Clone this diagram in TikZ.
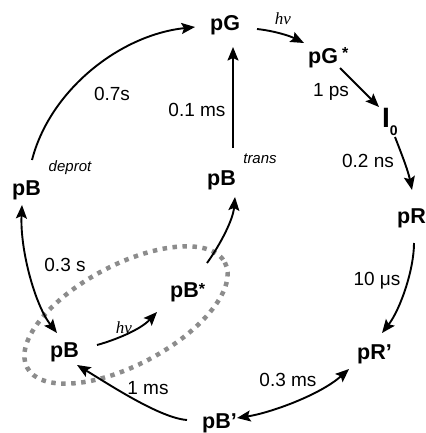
\documentclass[tikz,border=0pt]{standalone}
\usepackage{fontspec}
\setmainfont{Liberation Sans}
\newfontfamily\serifit{Liberation Serif}
\usetikzlibrary{arrows.meta}
\begin{document}
\begin{tikzpicture}[x=1pt,y=-1pt,
  st/.style={font=\fontsize{21.5}{24}\selectfont\bfseries, inner sep=0pt, anchor=base west},
  lab/.style={font=\fontsize{19}{22}\selectfont, inner sep=0pt, anchor=base},
  itl/.style={font=\fontsize{15}{18}\selectfont\itshape, inner sep=0pt, anchor=base},
  hnu/.style={font=\serifit\fontsize{17}{20}\selectfont\itshape, inner sep=0pt, anchor=base},
  tip/.tip={Stealth[length=13.5pt,width=11pt,inset=2.5pt]},
  arr/.style={line width=1.9pt, -tip},
  darr/.style={line width=1.9pt, tip-tip},
  dotloop/.style={draw=black!45, line width=4.5pt, dash pattern=on 4.5pt off 5.5pt}
]
\useasboundingbox (0,0) rectangle (425,433);

% dotted loop
\draw[dotloop, rotate around={28:(126,315)}] (126,315) ellipse [x radius=112, y radius=50];

% state nodes
\node[st] (pG)  at (210,31)  {pG};
\node[st] (pGs) at (308,64)  {pG\hspace{4pt}\raisebox{5pt}{\fontsize{16}{16}\selectfont *}};
\node[st] (I0)  at (382,127) {{\fontsize{28}{28}\selectfont I}\raisebox{-8pt}{\fontsize{14}{14}\selectfont 0}};
\node[st] (pR)  at (397,223) {pR};
\node[st] (pRp) at (357,359) {pR'};
\node[st] (pBp) at (202,428) {pB'};
\node[st] (pB)  at (50,357)  {pB};
\node[st] (pBs) at (170,297) {pB\raisebox{3pt}{\fontsize{16}{16}\selectfont *}};
\node[st] (pBt) at (207,185) {pB};
\node[st] (pBd) at (12,195)  {pB};

% small italic labels
\node[itl] (tdep) at (70,171)  {deprot};
\node[itl] (ttr)  at (260,163) {trans};
\node[hnu] (hv1)  at (283,25)  {hν};
\node[hnu] (hv2)  at (124,333) {hν};

% rate labels
\node[lab] (l1) at (112,100) {0.7s};
\node[lab] (l2) at (197,117) {0.1 ms};
\node[lab] (l3) at (331,97)  {1 ps};
\node[lab] (l4) at (368,167) {0.2 ns};
\node[lab] (l5) at (377,285) {10 μs};
\node[lab] (l6) at (288,386) {0.3 ms};
\node[lab] (l7) at (148,394) {1 ms};
\node[lab] (l8) at (65,271)  {0.3 s};

% connectors
\draw[arr] ([shift={(20,-35)}]pBd.base west) .. controls +(18,-70) and +(-75,8) .. ([shift={(-15,-4)}]pG.base west);
\draw[arr] ([shift={(26,-37)}]pBt.base west) -- ([shift={(23,16)}]pG.base west);
\draw[arr] ([shift={(47,-2)}]pG.base west) .. controls +(18,2) and +(-14,-7) .. ([shift={(-4,-21)}]pGs.base west);
\draw[arr] ([shift={(32,4)}]pGs.base west) -- ([shift={(-3,-20)}]I0.base west);
\draw[arr] ([shift={(13,10)}]I0.base west) .. controls +(5,13) and +(-4,-20) .. ([shift={(15,-33)}]pR.base west);
\draw[arr] ([shift={(17,20)}]pR.base west) .. controls +(0,27) and +(18,-23) .. ([shift={(25,-26)}]pRp.base west);
\draw[darr] ([shift={(-8,10)}]pRp.base west) .. controls +(-29,26) and +(33,-5) .. ([shift={(35,-10)}]pBp.base west);
\draw[arr] ([shift={(-15,-8)}]pBp.base west) .. controls +(-27,-2) and +(33,20) .. ([shift={(27,8)}]pB.base west);
\draw[darr] ([shift={(10,10)}]pBd.base west) .. controls +(-2,45) and +(-22,-28) .. ([shift={(7,-24)}]pB.base west);
\draw[arr] ([shift={(47,-12)}]pB.base west) .. controls +(18,-5) and +(-17,18) .. ([shift={(-13,15)}]pBs.base west);
\draw[arr] ([shift={(37,-34)}]pBs.base west) .. controls +(13,-18) and +(-2,23) .. ([shift={(28,12)}]pBt.base west);
\end{tikzpicture}
\end{document}
